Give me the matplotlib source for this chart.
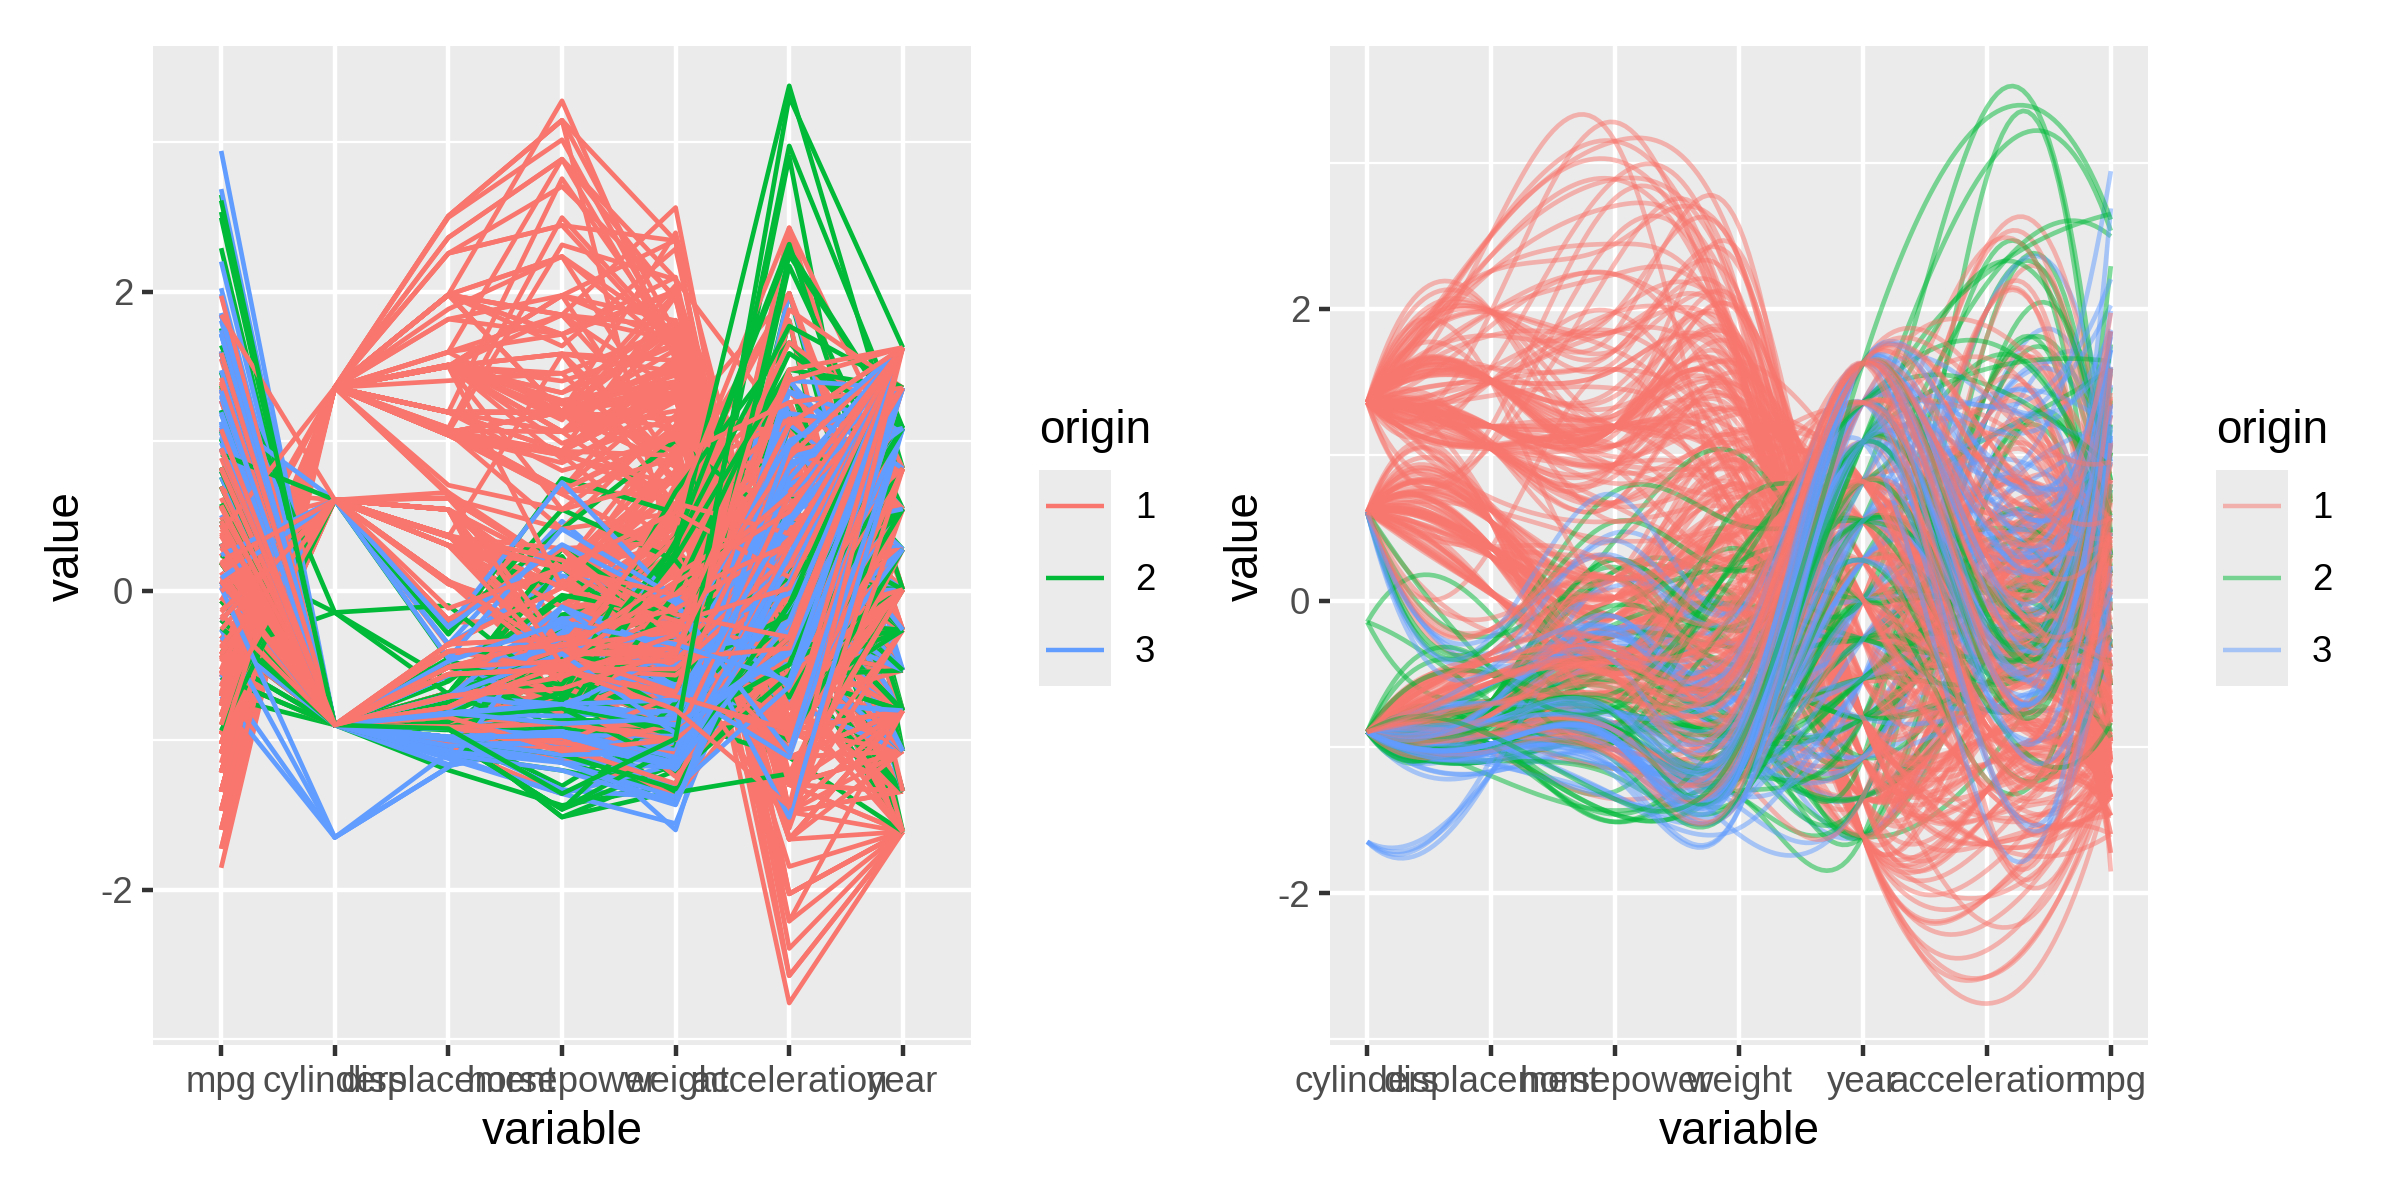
import numpy as np
import matplotlib
matplotlib.use('Agg')
import matplotlib.pyplot as plt
from matplotlib.lines import Line2D
from matplotlib.patches import Rectangle

# each row: mpg, cylinders, displacement, horsepower, weight, acceleration, origin
cars_70 = [(18,8,307,130,3504,12,1),(15,8,350,165,3693,11.5,1),(18,8,318,150,3436,11,1),(16,8,304,150,3433,12,1),
    (17,8,302,140,3449,10.5,1),(15,8,429,198,4341,10,1),(14,8,454,220,4354,9,1),(14,8,440,215,4312,8.5,1),
    (14,8,455,225,4425,10,1),(15,8,390,190,3850,8.5,1),(15,8,383,170,3563,10,1),(14,8,340,160,3609,8,1),
    (15,8,400,150,3761,9.5,1),(14,8,455,225,3086,10,1),(24,4,113,95,2372,15,3),(22,6,198,95,2833,15.5,1),
    (18,6,199,97,2774,15.5,1),(21,6,200,85,2587,16,1),(27,4,97,88,2130,14.5,3),(26,4,97,46,1835,20.5,2),
    (25,4,110,87,2672,17.5,2),(24,4,107,90,2430,14.5,2),(25,4,104,95,2375,17.5,2),(26,4,121,113,2234,12.5,2),
    (21,6,199,90,2648,15,1),(10,8,360,215,4615,14,1),(10,8,307,200,4376,15,1),(11,8,318,210,4382,13.5,1),
    (9,8,304,193,4732,18.5,1)]
cars_71 = [(27,4,97,88,2130,14.5,3),(28,4,140,90,2264,15.5,1),(25,4,113,95,2228,14,3),(19,6,232,100,2634,13,1),
    (16,6,225,105,3439,15.5,1),(17,6,250,100,3329,15.5,1),(19,6,250,88,3302,15.5,1),(18,6,232,100,3288,15.5,1),
    (14,8,350,165,4209,12,1),(14,8,400,175,4464,11.5,1),(14,8,351,153,4154,13.5,1),(14,8,318,150,4096,13,1),
    (12,8,383,180,4955,11.5,1),(13,8,400,170,4746,12,1),(13,8,400,175,5140,12,1),(18,6,258,110,2962,13.5,1),
    (22,4,140,72,2408,19,1),(19,6,250,100,3282,15,1),(18,6,250,88,3139,14.5,1),(23,4,122,86,2220,14,1),
    (28,4,116,90,2123,14,2),(30,4,79,70,2074,19.5,2),(30,4,88,76,2065,14.5,2),(31,4,71,65,1773,19,3),
    (35,4,72,69,1613,18,3),(27,4,97,60,1834,19,2),(26,4,91,70,1955,20.5,1)]
cars_72 = [(24,4,113,95,2278,15.5,3),(25,4,97.5,80,2126,17,1),(23,4,97,54,2254,23.5,2),(20,4,140,90,2408,19.5,1),
    (21,4,122,86,2226,16.5,1),(13,8,350,165,4274,12,1),(14,8,400,175,4385,12,1),(15,8,318,150,4135,13.5,1),
    (14,8,351,153,4129,13,1),(17,8,304,150,3672,11.5,1),(11,8,429,208,4633,11,1),(13,8,350,155,4502,13.5,1),
    (12,8,350,160,4456,13.5,1),(13,8,400,190,4422,12.5,1),(19,3,70,97,2330,13.5,3),(15,8,304,150,3892,12.5,1),
    (13,8,307,130,4098,14,1),(13,8,302,140,4294,16,1),(14,8,318,150,4077,14,1),(18,4,121,112,2933,14.5,2),
    (22,4,121,76,2511,18,2),(21,4,120,87,2979,19.5,2),(26,4,96,69,2189,18,2),(22,4,122,86,2395,16,1),
    (28,4,97,92,2288,17,3),(23,4,120,97,2506,14.5,3),(28,4,98,80,2164,15,1),(27,4,97,88,2100,16.5,3)]
cars_73 = [(13,8,350,175,4100,13,1),(14,8,304,150,3672,11.5,1),(13,8,350,145,3988,13,1),(14,8,302,137,4042,14.5,1),
    (15,8,318,150,3777,12.5,1),(12,8,429,198,4952,11.5,1),(13,8,400,150,4464,12,1),(13,8,351,158,4363,13,1),
    (14,8,318,150,4237,14.5,1),(13,8,440,215,4735,11,1),(12,8,455,225,4951,11,1),(13,8,360,175,3821,11,1),
    (18,6,225,105,3121,16.5,1),(16,6,250,100,3278,18,1),(18,6,232,100,2945,16,1),(18,6,250,88,3021,16.5,1),
    (23,6,198,95,2904,16,1),(26,4,97,46,1950,21,2),(11,8,400,150,4997,14,1),(12,8,400,167,4906,12.5,1),
    (13,8,360,170,4654,13,1),(12,8,350,180,4499,12.5,1),(18,6,232,100,2789,15,1),(20,4,97,88,2279,19,3),
    (21,4,140,72,2401,19.5,1),(22,4,108,94,2379,16.5,3),(18,3,70,90,2124,13.5,3),(19,4,122,85,2310,18.5,1),
    (21,6,155,107,2472,14,1),(26,4,98,90,2265,15.5,2),(15,8,350,145,4082,13,1),(16,8,400,230,4278,9.5,1),
    (29,4,68,49,1867,19.5,2),(24,4,116,75,2158,15.5,2),(20,4,114,91,2582,14,2),(19,4,121,112,2868,15.5,2),
    (15,8,318,150,3399,11,1),(24,4,121,110,2660,14,2),(20,6,156,122,2807,13.5,3),(11,8,350,180,3664,11,1)]
cars_74 = [(20,6,198,95,3102,16.5,1),(19,6,232,100,2901,16,1),(15,6,250,100,3336,17,1),(31,4,79,67,1950,19,3),
    (26,4,122,80,2451,16.5,1),(32,4,71,65,1836,21,3),(25,4,140,75,2542,17,1),(16,6,250,100,3781,17,1),
    (16,6,258,110,3632,18,1),(18,6,225,105,3613,16.5,1),(16,8,302,140,4141,14,1),(13,8,350,150,4699,14.5,1),
    (14,8,318,150,4457,13.5,1),(14,8,302,140,4638,16,1),(14,8,304,150,4257,15.5,1),(29,4,98,83,2219,16.5,2),
    (26,4,79,67,1963,15.5,2),(26,4,97,78,2300,14.5,2),(31,4,76,52,1649,16.5,3),(32,4,83,61,2003,19,3),
    (28,4,90,75,2125,14.5,1),(24,4,90,75,2108,15.5,2),(26,4,116,75,2246,14,2),(24,4,120,97,2489,15,3),
    (26,4,108,93,2391,15.5,3),(31,4,79,67,2000,16,2)]
cars_75 = [(19,6,225,95,3264,16,1),(18,6,250,105,3459,16,1),(15,6,250,72,3432,21,1),(15,6,250,72,3158,19.5,1),
    (16,8,400,170,4668,11.5,1),(15,8,350,145,4440,14,1),(16,8,318,150,4498,14.5,1),(14,8,351,148,4657,13.5,1),
    (17,6,231,110,3907,21,1),(16,6,250,105,3897,18.5,1),(15,6,258,110,3730,19,1),(18,6,225,95,3785,19,1),
    (21,6,231,110,3039,15,1),(20,8,262,110,3221,13.5,1),(13,8,302,129,3169,12,1),(29,4,97,75,2171,16,3),
    (23,4,140,83,2639,17,1),(20,6,232,100,2914,16,1),(23,4,140,78,2592,18.5,1),(24,4,134,96,2702,13.5,3),
    (25,4,90,71,2223,16.5,2),(24,4,119,97,2545,17,3),(18,6,171,97,2984,14.5,1),(29,4,90,70,1937,14,2),
    (19,6,232,90,3211,17,1),(23,4,115,95,2694,15,2),(23,4,120,88,2957,17,2),(22,4,121,98,2945,14.5,2),
    (25,4,121,115,2671,13.5,2),(33,4,91,53,1795,17.5,3)]
cars_76 = [(28,4,107,86,2464,15.5,2),(25,4,116,81,2220,16.9,2),(25,4,140,92,2572,14.9,1),(26,4,98,79,2255,17.7,1),
    (27,4,101,83,2202,15.3,2),(17.5,8,305,140,4215,13,1),(16,8,318,150,4190,13,1),(15.5,8,304,120,3962,13.9,1),
    (14.5,8,351,152,4215,12.8,1),(22,6,225,100,3233,15.4,1),(22,6,250,105,3353,14.5,1),(24,6,200,81,3012,17.6,1),
    (22.5,6,232,90,3085,17.6,1),(29,4,85,52,2035,22.2,1),(24.5,4,98,60,2164,22.1,1),(29,4,90,70,1937,14.2,2),
    (33,4,91,53,1795,17.4,3),(20,6,225,100,3651,17.7,1),(18,6,250,78,3574,21,1),(18.5,6,250,110,3645,16.2,1),
    (17.5,6,258,95,3193,17.8,1),(29.5,4,97,71,1825,12.2,2),(32,4,85,70,1990,17,3),(28,4,97,75,2155,16.4,3),
    (26.5,4,140,72,2565,13.6,1),(20,4,130,102,3150,15.7,2),(13,8,318,150,3940,13.2,1),(19,4,120,88,3270,21.9,2),
    (19,6,156,108,2930,15.5,3),(16.5,6,168,120,3820,16.7,2),(16.5,8,350,180,4380,12.1,1),(13,8,350,145,4055,12,1),
    (13,8,302,130,3870,15,1),(13,8,318,150,3755,14,1)]
cars_77 = [(30,4,98,68,2155,16.5,1),(31.5,4,89,71,1990,14.9,2),(36,4,79,58,1825,18.6,2),(25.5,4,140,89,2755,15.8,1),
    (33.5,4,98,83,2075,15.9,1),(17.5,6,250,110,3520,16.4,1),(17,6,231,105,3425,16.9,1),(15.5,8,318,145,4140,13.7,1),
    (15,8,302,130,4295,14.9,1),(17.5,8,318,140,4080,13.7,1),(15.5,8,400,190,4325,12.2,1),(15.5,8,351,149,4335,14.5,1),
    (30.5,4,98,63,2051,17,1),(30,4,97,67,1985,16.4,3),(36,4,85,70,1990,16.5,3),(25.5,4,122,96,2300,15.5,1),
    (33.5,4,85,70,1945,16.8,3),(24.5,4,151,88,2740,16,1),(26,4,97,75,2265,18.2,3),(25.5,4,140,89,2755,15.8,1),
    (22,6,146,97,2815,14.5,3),(21.5,4,121,110,2600,12.8,2),(21.5,3,80,110,2720,13.5,3)]
cars_78 = [(43.1,4,90,48,1985,21.5,2),(36.1,4,98,66,1800,14.4,1),(32.8,4,78,52,1985,19.4,3),(39.4,4,85,70,2070,18.6,3),
    (36.1,4,91,60,1800,16.4,3),(19.9,8,260,110,3365,15.5,1),(19.4,8,318,140,3735,13.2,1),(20.2,8,302,139,3570,12.8,1),
    (19.2,6,231,105,3535,19.2,1),(20.5,6,200,95,3155,18.2,1),(20.2,6,200,85,2965,15.8,1),(25.1,4,140,88,2720,15.4,1),
    (20.5,6,225,100,3430,17.2,1),(19.4,6,232,90,3210,17.2,1),(20.6,6,231,105,3380,15.8,1),(20.8,6,200,85,3070,16.7,1),
    (18.6,6,225,110,3620,18.7,1),(18.1,6,258,120,3410,15.1,1),(19.2,8,305,145,3425,13.2,1),(17.7,6,231,165,3445,13.4,1),
    (18.1,8,302,139,3205,11.2,1),(17.5,8,318,140,4080,13.7,1),(30,4,98,68,2155,16.5,1),(27.5,4,134,95,2560,14.2,3),
    (27.2,4,119,97,2300,14.7,3),(30.9,4,105,75,2230,14.5,1),(21.1,4,134,95,2515,14.8,3),(23.2,4,156,105,2745,16.7,1),
    (23.8,4,151,85,2855,17.6,1),(23.9,4,119,97,2405,14.9,3),(20.3,5,131,103,2830,15.9,2),(17,6,163,125,3140,13.6,2),
    (21.6,4,121,115,2795,15.7,2),(16.2,6,163,133,3410,15.8,2),(31.5,4,89,71,1990,14.9,2),(29.5,4,98,68,2135,16.6,3)]
cars_79 = [(21.5,6,231,115,3245,15.4,1),(19.8,6,200,85,2990,18.2,1),(22.3,4,140,88,2890,17.3,1),(20.2,6,232,90,3265,18.2,1),
    (20.6,6,225,110,3360,16.6,1),(17,8,305,130,3840,15.4,1),(17.6,8,302,129,3725,13.4,1),(16.5,8,351,138,3955,13.2,1),
    (18.2,8,318,135,3830,15.2,1),(16.9,8,350,155,4360,14.9,1),(15.5,8,351,142,4054,14.3,1),(19.2,8,267,125,3605,15,1),
    (18.5,8,360,150,3940,13,1),(31.9,4,89,71,1925,14,2),(34.1,4,86,65,1975,15.2,3),(35.7,4,98,80,1915,14.4,1),
    (27.4,4,121,80,2670,15,1),(25.4,5,183,77,3530,20.1,2),(23,8,350,125,3900,17.4,1),(27.2,4,141,71,3190,24.8,2),
    (23.9,8,260,90,3420,22.2,1),(34.2,4,105,70,2200,13.2,1),(34.5,4,105,70,2150,14.9,1),(31.8,4,85,65,2020,19.2,3),
    (37.3,4,91,69,2130,14.7,2),(28.4,4,151,90,2670,16,1),(28.8,6,173,115,2595,11.3,1),(26.8,6,173,115,2700,12.9,1),
    (33.5,4,151,90,2556,13.2,1)]
cars_80 = [(41.5,4,98,76,2144,14.7,2),(38.1,4,89,60,1968,18.8,3),(32.1,4,98,70,2120,15.5,1),(37.2,4,86,65,2019,16.4,3),
    (28,4,151,90,2678,16.5,1),(26.4,4,140,88,2870,18.1,1),(24.3,4,151,90,3003,20.1,1),(19.1,6,225,90,3381,18.7,1),
    (34.3,4,97,78,2188,15.8,2),(29.8,4,134,90,2711,15.5,3),(31.3,4,120,75,2542,17.5,3),(37,4,119,92,2434,15,3),
    (32.2,4,108,75,2265,15.2,3),(46.6,4,86,65,2110,17.9,3),(27.9,4,156,105,2800,14.4,1),(40.8,4,85,65,2110,19.2,3),
    (44.3,4,90,48,2085,21.7,2),(43.4,4,90,48,2335,23.7,2),(36.4,5,121,67,2950,19.9,2),(30,4,146,67,3250,21.8,2),
    (44.6,4,91,67,1850,13.8,3),(33.8,4,97,67,2145,18,3),(29.8,4,89,62,1845,15.3,2),(32.7,6,168,132,2910,11.4,3),
    (23.7,3,70,100,2420,12.5,3),(35,4,122,88,2500,15.1,2),(32.4,4,107,72,2290,17,3)]
cars_81 = [(27.2,4,135,84,2490,15.7,1),(26.6,4,151,84,2635,16.4,1),(25.8,4,156,92,2620,14.4,1),(23.5,6,173,110,2725,12.6,1),
    (30,4,135,84,2385,12.9,1),(39.1,4,79,58,1755,16.9,3),(39,4,86,64,1875,16.4,1),(35.1,4,81,60,1760,16.1,3),
    (32.3,4,97,67,2065,17.8,3),(37,4,85,65,1975,19.4,3),(37.7,4,89,62,2050,17.3,3),(34.1,4,91,68,1985,16,3),
    (34.7,4,105,63,2215,14.9,1),(34.4,4,98,65,2045,16.2,1),(29.9,4,98,65,2380,20.7,1),(33,4,105,74,2190,14.2,2),
    (33.7,4,107,75,2210,14.4,3),(32.4,4,108,75,2350,16.8,3),(32.9,4,119,100,2615,14.8,3),(31.6,4,120,74,2635,18.3,3),
    (28.1,4,141,80,3230,20.4,2),(30.7,6,145,76,3160,19.6,2),(25.4,6,168,116,2900,12.6,3),(24.2,6,146,120,2930,13.8,3),
    (22.4,6,231,110,3415,15.8,1),(26.6,8,350,105,3725,19,1),(20.2,6,200,88,3060,17.1,1),(17.6,6,225,85,3465,16.6,1)]
cars_82 = [(28,4,112,88,2605,19.6,1),(27,4,112,88,2640,18.6,1),(34,4,112,88,2395,18,1),(31,4,112,85,2575,16.2,1),
    (29,4,135,84,2525,16,1),(27,4,151,90,2735,18,1),(24,4,140,92,2865,16.4,1),(36,4,105,74,1980,15.3,2),
    (37,4,91,68,2025,18.2,3),(31,4,91,68,1970,17.6,3),(38,4,105,63,2125,14.7,1),(36,4,98,70,2125,17.3,1),
    (36,4,120,88,2160,14.5,3),(36,4,107,75,2205,14.5,3),(34,4,108,70,2245,16.9,3),(38,4,91,67,1965,15,3),
    (32,4,91,67,1965,15.7,3),(38,4,91,67,1995,16.2,3),(25,6,181,110,2945,16.4,1),(38,6,262,85,3015,17,1),
    (26,4,156,92,2585,14.5,1),(22,6,232,112,2835,14.7,1),(32,4,144,96,2665,13.9,3),(36,4,135,84,2370,13,1),
    (27,4,151,90,2950,17.3,1),(27,4,140,86,2790,15.6,1),(44,4,97,52,2130,24.6,2),(32,4,135,84,2295,11.6,1),
    (28,4,120,79,2625,18.6,1),(31,4,119,82,2720,19.4,1)]

by_year = {70: cars_70, 71: cars_71, 72: cars_72, 73: cars_73, 74: cars_74, 75: cars_75, 76: cars_76,
           77: cars_77, 78: cars_78, 79: cars_79, 80: cars_80, 81: cars_81, 82: cars_82}

left_vars = ['mpg', 'cylinders', 'displacement', 'horsepower', 'weight', 'acceleration', 'year']
right_vars = ['cylinders', 'displacement', 'horsepower', 'weight', 'year', 'acceleration', 'mpg']
origin_labels = ['1', '2', '3']
origin_colors = {1: '#F8766D', 2: '#00BA38', 3: '#619CFF'}
y_major = [-2, 0, 2]
y_minor = [-3, -1, 1, 3]

plt.rcParams['font.family'] = ['Liberation Sans', 'DejaVu Sans']

# columns, in the order of the data set
rows = [(*r, yr) for yr, block in by_year.items() for r in block]
table = np.array(rows, dtype=float)
origin = table[:, 6].astype(int)
cols = {'mpg': table[:, 0], 'displacement': table[:, 2], 'horsepower': table[:, 3],
        'weight': table[:, 4], 'acceleration': table[:, 5], 'year': table[:, 7]}
# cylinders is a factor in the original, so the levels are used (3 4 5 6 8 -> 1..5)
cols['cylinders'] = np.unique(table[:, 1], return_inverse=True)[1] + 1.0
z = {k: (v - v.mean()) / v.std(ddof=1) for k, v in cols.items()}


def fmm_spline(y, per_seg=24):
    # same end condition as R's spline(): third derivative from a cubic through 4 end points
    n = len(y)
    A = np.zeros((n, n))
    b = np.zeros(n)
    for i in range(1, n - 1):
        A[i, i - 1:i + 2] = [1, 4, 1]
        b[i] = 6 * (y[i + 1] - 2 * y[i] + y[i - 1])
    A[0, :2] = [-1, 1]
    b[0] = y[3] - 3 * y[2] + 3 * y[1] - y[0]
    A[-1, -2:] = [-1, 1]
    b[-1] = y[-1] - 3 * y[-2] + 3 * y[-3] - y[-4]
    m = np.linalg.solve(A, b)
    xs = np.linspace(0, n - 1, (n - 1) * per_seg + 1)
    i = np.minimum(xs.astype(int), n - 2)
    t = xs - i
    ys = ((1 - t) ** 3 * m[i] + t ** 3 * m[i + 1]) / 6 + (y[i] - m[i] / 6) * (1 - t) + (y[i + 1] - m[i + 1] / 6) * t
    return xs, ys


def px_axes(fig, x0, x1, y0, y1):
    return fig.add_axes([x0 / 2400, 1 - y1 / 1200, (x1 - x0) / 2400, (y1 - y0) / 1200])


def style(ax, names, xlim, ylim):
    ax.set_facecolor('#EBEBEB')
    for s in ax.spines.values():
        s.set_visible(False)
    ax.set_xlim(*xlim)
    ax.set_ylim(*ylim)
    ax.set_xticks(range(len(names)))
    ax.set_xticklabels(names)
    ax.set_yticks(y_major)
    ax.set_yticklabels(['-2', '0', '2'])
    ax.set_yticks(y_minor, minor=True)
    ax.set_axisbelow(True)
    ax.grid(which='major', color='white', lw=1.07)
    ax.grid(which='minor', axis='y', color='white', lw=0.53)
    ax.tick_params(which='major', length=2.75, width=1.07, color='#333333', labelcolor='#4D4D4D',
                   labelsize=8.8, pad=2.0)
    ax.tick_params(which='minor', length=0)


def legend(fig, box_x, alpha):
    def fx(v):
        return v / 2400

    def fy(v):
        return 1 - v / 1200

    fig.text(fx(box_x), fy(431), 'origin', fontsize=11, ha='left', va='center')
    fig.add_artist(Rectangle((fx(box_x), fy(686)), 72 / 2400, 216 / 1200, transform=fig.transFigure,
                             facecolor='#EBEBEB', edgecolor='none'))
    for k, lab in enumerate(origin_labels):
        yy = fy(506 + 72 * k)
        fig.add_artist(Line2D([fx(box_x + 7), fx(box_x + 65)], [yy, yy], transform=fig.transFigure,
                              color=origin_colors[k + 1], lw=1.07, alpha=alpha, solid_capstyle='butt'))
        fig.text(fx(box_x + 96), yy - 3 / 1200, lab, fontsize=8.8, ha='left', va='center')


fig = plt.figure(figsize=(8, 4), dpi=300)

# left: straight lines
ax1 = px_axes(fig, 153, 971, 46, 1045)
style(ax1, left_vars, (-0.6, 6.6), (-3.037, 3.645))
left_z = np.array([z[v] for v in left_vars]).T
for line, o in zip(left_z, origin):
    ax1.plot(range(7), line, color=origin_colors[o], lw=1.12, solid_joinstyle='round', solid_capstyle='butt')

# right: other variable order, splines, half transparent
ax2 = px_axes(fig, 1330, 2148, 46, 1045)
style(ax2, right_vars, (-0.3, 6.3), (-3.04, 3.80))
right_z = np.array([z[v] for v in right_vars]).T
for line, o in zip(right_z, origin):
    xs, ys = fmm_spline(line)
    ax2.plot(xs, ys, color=origin_colors[o], lw=1.12, alpha=0.5, solid_joinstyle='round', solid_capstyle='butt')

fig.text(562 / 2400, 1 - 1132 / 1200, 'variable', fontsize=11, ha='center', va='center')
fig.text(1739 / 2400, 1 - 1132 / 1200, 'variable', fontsize=11, ha='center', va='center')
fig.text(67 / 2400, 1 - 546 / 1200, 'value', fontsize=11, rotation=90, ha='center', va='center')
fig.text(1246 / 2400, 1 - 546 / 1200, 'value', fontsize=11, rotation=90, ha='center', va='center')

legend(fig, 1039, 1.0)
legend(fig, 2216, 0.5)

fig.savefig('out.png', dpi=300)
